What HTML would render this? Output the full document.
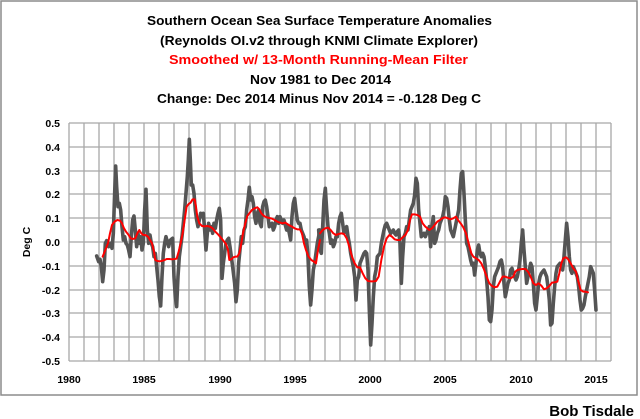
<!DOCTYPE html>
<html><head><meta charset="utf-8"><style>
html,body{margin:0;padding:0;background:#fff;}
svg{display:block;}
text{font-family:"Liberation Sans",sans-serif;font-weight:bold;}
</style></head><body>
<svg width="640" height="419" viewBox="0 0 640 419">
<rect x="0" y="0" width="640" height="419" fill="#fff"/>
<rect x="1" y="1" width="636" height="394" fill="none" stroke="#8c8c8c" stroke-width="1.5"/>
<g font-size="12.5" text-anchor="start">
<text x="147" y="25" textLength="345" lengthAdjust="spacingAndGlyphs">Southern Ocean Sea Surface Temperature Anomalies</text>
<text x="160" y="45" textLength="318" lengthAdjust="spacingAndGlyphs">(Reynolds OI.v2 through KNMI Climate Explorer)</text>
<text x="169" y="64" textLength="299" lengthAdjust="spacingAndGlyphs" fill="#ff0000">Smoothed w/ 13-Month Running-Mean Filter</text>
<text x="250" y="84" textLength="141" lengthAdjust="spacingAndGlyphs">Nov 1981 to Dec 2014</text>
<text x="157" y="103" textLength="324" lengthAdjust="spacingAndGlyphs">Change: Dec 2014  Minus Nov 2014 = -0.128 Deg C</text>
</g>
<g stroke="#a8a8a8" stroke-width="1.3">
<path d="M69 123H611M69 147H611M69 171H611M69 194H611M69 218H611M69 242H611M69 266H611M69 290H611M69 313H611M69 337H611M69 361H611"/>
<path d="M69 123V361M84 123V361M99 123V361M114 123V361M129 123V361M144 123V361M159 123V361M174 123V361M189 123V361M205 123V361M220 123V361M235 123V361M250 123V361M265 123V361M280 123V361M295 123V361M310 123V361M325 123V361M340 123V361M355 123V361M370 123V361M385 123V361M400 123V361M415 123V361M430 123V361M445 123V361M461 123V361M476 123V361M491 123V361M506 123V361M521 123V361M536 123V361M551 123V361M566 123V361M581 123V361M596 123V361M611 123V361"/>
</g>
<g font-size="10.5" text-anchor="end" fill="#000">
<text x="60" y="127">0.5</text><text x="60" y="151">0.4</text><text x="60" y="175">0.3</text><text x="60" y="198">0.2</text><text x="60" y="222">0.1</text><text x="60" y="246">0.0</text><text x="60" y="270">-0.1</text><text x="60" y="294">-0.2</text><text x="60" y="317">-0.3</text><text x="60" y="341">-0.4</text><text x="60" y="365">-0.5</text>
</g>
<g font-size="10.5" text-anchor="middle">
<text x="69" y="383">1980</text><text x="144" y="383">1985</text><text x="220" y="383">1990</text><text x="295" y="383">1995</text><text x="370" y="383">2000</text><text x="445" y="383">2005</text><text x="521" y="383">2010</text><text x="596" y="383">2015</text>
</g>
<text x="30" y="242" font-size="10.5" text-anchor="middle" transform="rotate(-90 30 242)">Deg C</text>
<g fill="none" stroke-linejoin="round" stroke-linecap="round">
<g transform="translate(0,110) scale(0.3333)">
<polyline stroke="#555" stroke-width="3.6" vector-effect="non-scaling-stroke" points="290,438 296,455 300,448 304,470 308,515 312,480 316,400 320,392 326,410 332,400 336,415 340,370 344,250 347,168 350,230 354,290 358,280 362,300 366,350 370,390 374,380 378,400 382,405 386,420 390,440 394,380 398,330 402,318 406,360 410,410 414,370 418,400 422,380 426,420 430,400 434,300 438,238 442,360 446,400 450,375 454,400 458,410 462,440 466,430 470,470 474,510 478,560 482,588 486,500 490,430 494,400 498,380 502,395 506,410 510,392 514,388 518,385 522,500 526,560 530,590 534,500 538,440 542,410 546,380 550,340 554,300 558,250 562,200 565,150 568,88 571,150 574,225 578,225 582,250 586,300 590,330 594,350 598,330 602,310 606,320 610,310 614,360 618,420 622,370 626,340 630,360 634,350 638,370 642,340 646,355 650,330 654,310 658,295 662,330 666,505 670,460 674,430 678,400 682,390 686,385 690,410 694,440 698,470 704,520 708,575 712,540 716,460 720,420 724,380 728,400 732,360 736,350 740,300 744,270 748,232 752,270 756,260 760,280 764,320 768,340 772,310 776,300 780,340 784,350 788,290 792,275 796,270 800,290 804,320 808,350 812,345 816,340 820,360 824,350 828,330 832,320 836,340 840,320 844,330 848,340 852,330 856,345 860,360 864,350 868,370 872,390 876,320 880,280 884,265 888,300 892,330 896,340 900,340 904,360 908,370 912,380 916,400 920,390 924,440 928,530 932,585 936,540 940,480 944,460 948,430 952,400 956,380 960,360"/>
</g>
<g transform="translate(320,110) scale(0.3333)">
<polyline stroke="#555" stroke-width="3.6" vector-effect="non-scaling-stroke" points="-4,360 0,420 4,430 8,350 12,270 16,235 20,300 24,350 28,370 32,400 36,390 40,410 44,400 48,380 52,380 56,340 60,320 64,310 68,340 72,370 76,360 80,350 84,380 88,400 92,430 96,450 100,470 104,500 108,570 112,510 116,500 120,460 124,450 128,440 132,430 136,425 140,430 144,480 148,600 152,705 156,640 160,560 164,500 168,480 172,440 176,435 180,430 184,400 188,380 192,360 196,345 200,340 204,350 208,360 212,370 216,365 220,360 224,370 228,375 232,365 236,360 240,400 244,520 248,440 252,380 256,370 260,350 264,360 268,330 272,300 276,290 280,280 284,255 288,205 292,220 296,300 300,340 304,380 308,375 312,370 316,380 320,370 324,360 328,350 332,410 336,350 340,320 344,400 348,390 352,370 356,360 360,340 364,330 368,320 372,300 376,260 380,265 384,290 388,330 392,360 396,370 400,380 404,360 408,340 412,320 416,300 420,240 424,190 428,185 432,250 436,330 440,400 444,410 448,430 452,450 456,465 460,460 464,495 468,460 472,420 476,405 480,430 484,440 488,430 492,440 496,470 500,510 504,560 508,630 512,635 516,600 520,530 524,500 528,490 532,480 536,470 540,455 544,450 548,470 552,520 556,560 560,540 564,520 568,510 572,480 576,475 580,490 584,500 588,510 592,500 596,480 600,450 604,400 608,360 612,420 616,470 620,520 624,500 628,480 632,460 636,470 640,520 644,580 648,600 652,560 656,520 660,500 664,490 668,485 672,480 676,490 680,500 684,530 688,570 692,645 696,640 700,580 704,530 708,490 712,470 716,465 720,460 724,470 728,480 732,440 736,390 740,340 744,380 748,440 752,480 756,490 760,470 764,480 768,490 772,500 776,530 780,570 784,600 788,595 792,585 796,560 800,540 804,520 808,500 812,470 816,480 820,490 824,540 828,600"/>
</g>
<g transform="translate(0,110) scale(0.3333)">
<polyline stroke="#ff0000" stroke-width="2" vector-effect="non-scaling-stroke" points="308,440 316,420 324,400 330,370 336,345 344,335 352,330 360,332 366,340 372,355 378,365 386,375 392,385 398,387 406,385 412,370 418,360 424,370 430,375 436,375 444,380 450,390 456,400 462,425 466,450 472,453 480,454 488,452 494,450 500,447 508,447 516,448 524,447 530,446 536,425 542,400 548,370 554,330 560,290 566,282 572,278 578,268 584,268 588,290 592,320 598,340 606,348 614,349 622,348 630,350 638,355 646,365 654,373 662,382 670,392 678,402 684,420 688,450 694,448 700,442 706,440 712,440 718,430 724,400 730,365 736,340 742,318 748,310 756,300 764,295 772,292 778,298 784,310 792,318 800,322 808,324 816,326 824,330 832,335 840,338 848,340 856,338 862,342 868,346 876,350 884,355 892,358 900,358 906,370 912,400 918,420 926,440 934,450 942,455 948,460 954,420 960,390"/>
</g>
<g transform="translate(320,110) scale(0.3333)">
<polyline stroke="#ff0000" stroke-width="2" vector-effect="non-scaling-stroke" points="0,370 8,360 16,355 24,353 32,360 40,370 48,375 56,372 64,370 72,372 80,385 88,410 96,440 104,460 112,472 120,472 128,490 136,505 144,513 152,514 160,514 168,513 176,500 184,450 192,410 200,385 208,375 216,380 224,388 232,390 240,390 248,382 256,375 264,360 270,330 276,313 284,313 292,315 300,320 308,340 316,350 322,355 328,360 336,355 344,345 352,335 360,330 368,324 376,322 384,325 392,328 400,325 408,320 414,330 422,340 430,352 438,370 446,400 454,430 460,440 468,445 476,450 484,460 492,478 500,500 508,520 516,528 524,532 532,530 540,515 548,500 556,500 564,503 572,505 580,500 586,485 592,480 600,478 608,477 616,477 624,485 632,500 640,520 648,525 656,520 664,527 672,538 680,535 688,528 696,518 704,517 712,515 718,490 724,460 730,445 738,442 744,447 752,460 760,475 768,485 774,510 782,540 790,545 796,545 804,547"/>
</g>
</g>
<text x="634" y="416" font-size="15" text-anchor="end">Bob Tisdale</text>
</svg>
</body></html>
